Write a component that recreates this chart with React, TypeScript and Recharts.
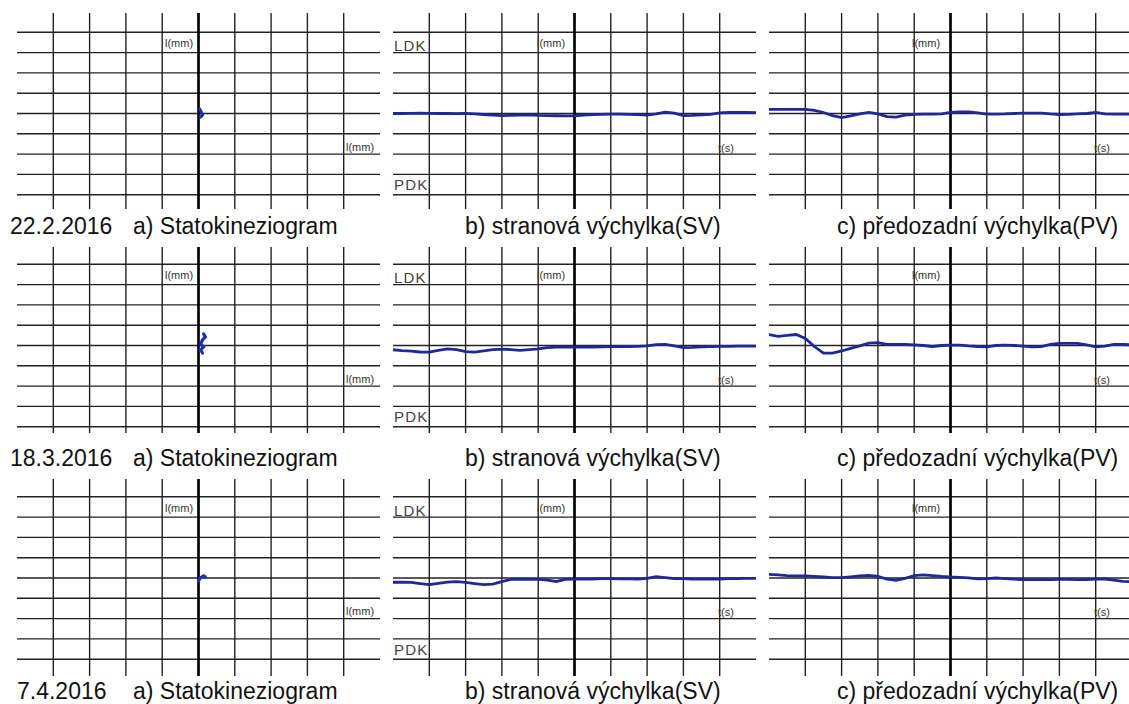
import React from 'react';
import { LineChart, Line, XAxis, YAxis, CartesianGrid, ReferenceLine } from 'recharts';

// measurement dates, one row each
const DATES = ['22.2.2016', '18.3.2016', '7.4.2016'];

// time axis of the sway recordings (s)
const TIME_S = [
  0, 1, 2, 3, 4, 5, 6, 7, 8, 9,
  10, 11, 12, 13, 14, 15, 16, 17, 18, 19,
  20, 21, 22, 23, 24, 25, 26, 27, 28, 29,
  30, 31, 32, 33, 34, 35, 36, 37, 38, 39,
  40,
];

// lateral sway (SV), + towards LDK
const SV_22_2 = [
  0, 0, 0.01, 0.02, 0.01, 0, 0, -0.01, 0, -0.02,
  -0.05, -0.08, -0.1, -0.09, -0.08, -0.07, -0.09, -0.1, -0.11, -0.12,
  -0.11, -0.08, -0.05, -0.04, -0.03, -0.03, -0.04, -0.06, -0.08, -0.02,
  0.07, 0.02, -0.1, -0.09, -0.07, -0.04, 0.03, 0.05, 0.05, 0.05,
  0.04,
];
const SV_18_3 = [
  -0.21, -0.25, -0.28, -0.32, -0.33, -0.24, -0.17, -0.2, -0.3, -0.33,
  -0.27, -0.2, -0.18, -0.2, -0.24, -0.2, -0.17, -0.1, -0.08, -0.08,
  -0.08, -0.07, -0.08, -0.07, -0.06, -0.05, -0.05, -0.04, -0.02, 0.04,
  0.05, -0.02, -0.1, -0.09, -0.07, -0.05, -0.04, -0.04, -0.03, -0.03,
  -0.03,
];
const SV_7_4 = [
  -0.21, -0.21, -0.22, -0.28, -0.33, -0.26, -0.2, -0.18, -0.22, -0.28,
  -0.33, -0.3, -0.18, -0.07, -0.06, -0.07, -0.07, -0.1, -0.17, -0.07,
  -0.06, -0.06, -0.05, -0.03, -0.03, -0.04, -0.04, -0.06, -0.02, 0.07,
  0.02, -0.03, -0.03, -0.05, -0.06, -0.06, -0.05, -0.03, -0.03, -0.02,
  -0.02,
];

// anteroposterior sway (PV)
const PV_22_2 = [
  0.2, 0.2, 0.2, 0.2, 0.2, 0.15, 0.05, -0.1, -0.2, -0.12,
  -0.02, 0.05, -0.02, -0.15, -0.18, -0.08, -0.04, -0.03, -0.03, -0.02,
  0.05, 0.08, 0.08, 0.03, -0.03, -0.03, -0.02, 0, 0.02, 0.02,
  0.02, -0.02, -0.05, -0.04, -0.02, 0, 0.05, -0.02, -0.03, -0.03,
  -0.03,
];
const PV_18_3 = [
  0.54, 0.45, 0.5, 0.54, 0.35, -0.05, -0.38, -0.38, -0.27, -0.14,
  -0.02, 0.12, 0.14, 0.05, 0.05, 0.05, 0.03, 0, -0.05, 0,
  0.02, 0.02, -0.02, -0.05, -0.07, 0, 0.02, 0, -0.03, -0.07,
  -0.05, 0.05, 0.1, 0.1, 0.1, 0.03, -0.07, -0.03, 0.05, 0.05,
  0.03,
];
const PV_7_4 = [
  0.18, 0.15, 0.12, 0.1, 0.1, 0.08, 0.05, 0.02, 0.02, 0.06,
  0.1, 0.13, 0.08, -0.05, -0.11, -0.02, 0.12, 0.15, 0.12, 0.08,
  0.05, 0.03, 0.01, -0.04, -0.03, 0, -0.03, -0.06, -0.08, -0.08,
  -0.08, -0.08, -0.07, -0.07, -0.08, -0.08, -0.06, -0.05, -0.1, -0.17,
  -0.18,
];

// statokinesiogram traces (x: lateral, y: anteroposterior)
const SKG_22_2 = [
  { x: 0.03, y: 0.22 }, { x: 0.08, y: 0.07 }, { x: 0.11, y: -0.07 }, { x: 0.06, y: -0.17 },
];
const SKG_18_3 = [
  { x: 0.14, y: 0.57 }, { x: 0.19, y: 0.42 }, { x: 0.11, y: 0.27 }, { x: 0.06, y: 0.07 },
  { x: 0.14, y: -0.07 }, { x: 0.06, y: -0.22 }, { x: 0.11, y: -0.37 },
];
const SKG_7_4 = [
  { x: 0, y: -0.15 }, { x: 0.05, y: 0 }, { x: 0.14, y: 0.1 }, { x: 0.19, y: 0.05 },
];

const GRID_TIME = [4, 8, 12, 16, 20, 24, 28, 32, 36];
const GRID_POS = [-4, -3, -2, -1, 0, 1, 2, 3, 4];

const toSeries = (values: number[]) => TIME_S.map((t, i) => ({ t, v: values[i] }));

const ROWS = [
  { date: DATES[0], skg: SKG_22_2, sv: toSeries(SV_22_2), pv: toSeries(PV_22_2) },
  { date: DATES[1], skg: SKG_18_3, sv: toSeries(SV_18_3), pv: toSeries(PV_18_3) },
  { date: DATES[2], skg: SKG_7_4, sv: toSeries(SV_7_4), pv: toSeries(PV_7_4) },
];

// layout
const ROW_BOX = [
  { top: 13, center: 113.5, bottom: 209, dateX: 10 },
  { top: 247, center: 345.5, bottom: 433, dateX: 10 },
  { top: 479, center: 578, bottom: 676, dateX: 17 },
];
const COL_LEFT = [17, 393, 769];
const PANEL_W = 363;
const UNIT_PX = 20.3;
const FONT = '"Liberation Sans", Arial, sans-serif';

// grid lines only at the given values, placed by the axis scale
const lineCoords = (axis: any, values: number[], start: number, size: number, domain: [number, number]) =>
  values.map((v) =>
    axis && typeof axis.scale === 'function'
      ? axis.scale(v)
      : start + ((v - domain[0]) / (domain[1] - domain[0])) * size,
  );

type PanelProps = {
  left: number;
  top: number;
  height: number;
  yDomain: [number, number];
  data: any[];
  xKey: string;
  yKey: string;
  xDomain: [number, number];
  xTicks: number[];
  center: number;
  color: string;
  width: number;
};

const Panel = (p: PanelProps) => {
  // y runs downward in SVG, so the domain is flipped for the fallback
  const yFlip: [number, number] = [p.yDomain[1], p.yDomain[0]];
  return (
    <div style={{ position: 'absolute', left: p.left, top: p.top }}>
      <LineChart width={PANEL_W} height={p.height} data={p.data} margin={{ top: 0, right: 0, bottom: 0, left: 0 }}>
        <CartesianGrid
          stroke="#222"
          strokeWidth={1.4}
          verticalCoordinatesGenerator={({ xAxis, offset }: any) =>
            lineCoords(xAxis, p.xTicks, offset.left, offset.width, p.xDomain)
          }
          horizontalCoordinatesGenerator={({ yAxis, offset }: any) =>
            lineCoords(yAxis, GRID_POS, offset.top, offset.height, yFlip)
          }
        />
        <XAxis type="number" dataKey={p.xKey} domain={p.xDomain} ticks={p.xTicks} interval={0} hide />
        <YAxis type="number" domain={p.yDomain} ticks={GRID_POS} interval={0} hide allowDataOverflow />
        <ReferenceLine x={p.center} stroke="#000" strokeWidth={2.6} />
        <Line
          type="linear"
          dataKey={p.yKey}
          stroke={p.color}
          strokeWidth={p.width}
          strokeLinecap="round"
          dot={false}
          isAnimationActive={false}
        />
      </LineChart>
    </div>
  );
};

const small = { fontSize: 11, fill: '#333', fontFamily: FONT };
const side = { fontSize: 15, fill: '#444', fontFamily: FONT, letterSpacing: 1.2 };
const caption = { fontSize: 23, fill: '#111', fontFamily: FONT };

const App: React.FC = () => (
  <div style={{ position: 'absolute', left: 0, top: 0, width: 1129, height: 704, background: '#fff', overflow: 'hidden' }}>
    {ROWS.map((row, r) => {
      const box = ROW_BOX[r];
      const h = box.bottom - box.top;
      const yDomain: [number, number] = [-(box.bottom - box.center) / UNIT_PX, (box.center - box.top) / UNIT_PX];
      return (
        <React.Fragment key={row.date}>
          <Panel left={COL_LEFT[0]} top={box.top} height={h} yDomain={yDomain} data={row.skg}
            xKey="x" yKey="y" xDomain={[-5, 5]} xTicks={GRID_POS} center={0} color="#1f30b8" width={3.2} />
          <Panel left={COL_LEFT[1]} top={box.top} height={h} yDomain={yDomain} data={row.sv}
            xKey="t" yKey="v" xDomain={[0, 40]} xTicks={GRID_TIME} center={20} color="#1c2a98" width={2.8} />
          <Panel left={COL_LEFT[2]} top={box.top} height={h} yDomain={yDomain} data={row.pv}
            xKey="t" yKey="v" xDomain={[0, 40]} xTicks={GRID_TIME} center={20} color="#1c2a98" width={2.8} />
        </React.Fragment>
      );
    })}
    <svg width={1129} height={704} style={{ position: 'absolute', left: 0, top: 0, pointerEvents: 'none' }}>
      {ROWS.map((row, r) => {
        const c = ROW_BOX[r].center;
        return (
          <g key={row.date}>
            <text x={165} y={c - 66.5} {...small}>l(mm)</text>
            <text x={346} y={c + 37} {...small}>l(mm)</text>
            <text x={537} y={c - 66.5} {...small}>l(mm)</text>
            <text x={718} y={c + 38} {...small}>t(s)</text>
            <text x={912} y={c - 66.5} {...small}>l(mm)</text>
            <text x={1094} y={c + 38} {...small}>t(s)</text>
            <text x={394} y={c - 62.5} {...side}>LDK</text>
            <text x={394} y={c + 76.5} {...side}>PDK</text>
            <text x={ROW_BOX[r].dateX} y={c + 120.5} {...caption}>{row.date}</text>
            <text x={133} y={c + 120.5} {...caption}>a) Statokineziogram</text>
            <text x={465} y={c + 120.5} {...caption}>b) stranová výchylka(SV)</text>
            <text x={837} y={c + 120.5} {...caption}>c) předozadní výchylka(PV)</text>
          </g>
        );
      })}
    </svg>
  </div>
);

export default App;
